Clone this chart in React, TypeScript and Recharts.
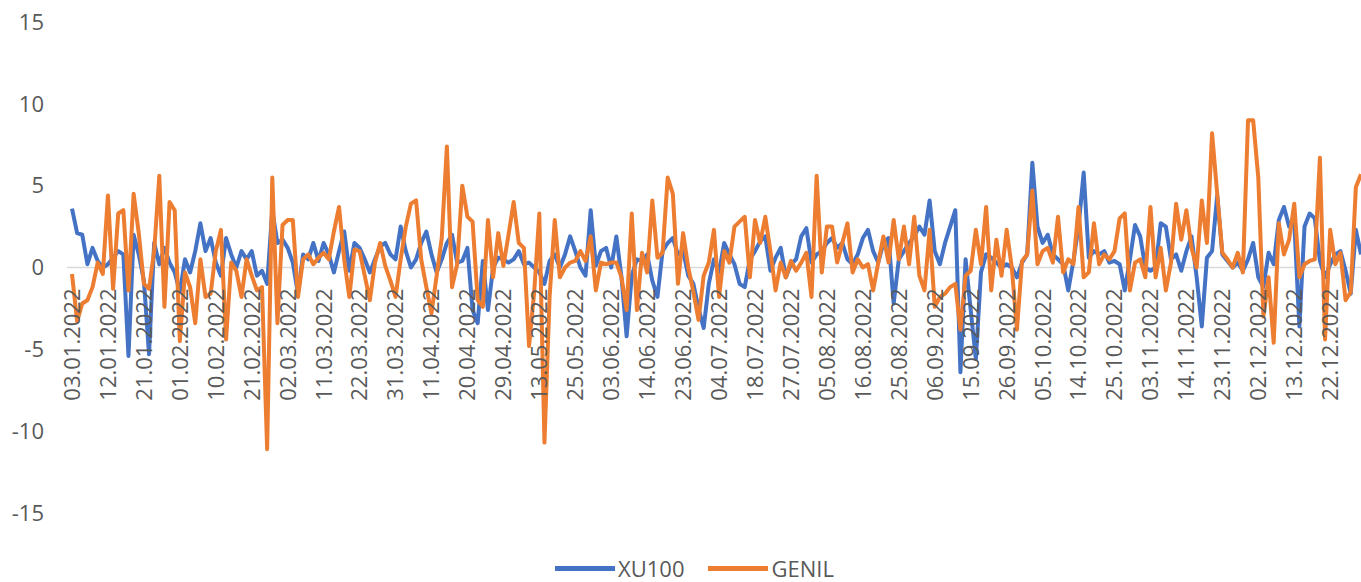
import React from 'react';
import { LineChart, Line, XAxis, YAxis, ReferenceLine, Legend } from 'recharts';

const TICK_LABELS = [
  '03.01.2022', '12.01.2022', '21.01.2022', '01.02.2022', '10.02.2022', '21.02.2022',
  '02.03.2022', '11.03.2022', '22.03.2022', '31.03.2022', '11.04.2022', '20.04.2022',
  '29.04.2022', '13.05.2022', '25.05.2022', '03.06.2022', '14.06.2022', '23.06.2022',
  '04.07.2022', '18.07.2022', '27.07.2022', '05.08.2022', '16.08.2022', '25.08.2022',
  '06.09.2022', '15.09.2022', '26.09.2022', '05.10.2022', '14.10.2022', '25.10.2022',
  '03.11.2022', '14.11.2022', '23.11.2022', '02.12.2022', '13.12.2022', '22.12.2022',
];

const Y_TICKS = [-15, -10, -5, 0, 5, 10, 15];

const XU100 = [
  3.6, 2.1, 2.0, 0.2, 1.2, 0.4, 0.0,
  0.2, 0.6, 1.0, 0.8, -5.4, 2.0, 0.8,
  -0.8, -5.3, 1.5, 0.2, 1.2, 0.3, -0.3,
  -1.5, 0.5, -0.3, 1.0, 2.7, 1.0, 1.8,
  0.3, -0.5, 1.8, 0.8, 0.0, 1.0, 0.5,
  1.0, -0.5, -0.2, -1.0, 3.5, 1.5, 1.7,
  1.2, 0.3, -1.6, 0.8, 0.5, 1.5, 0.4,
  1.5, 0.8, -0.3, 1.0, 2.2, -0.2, 1.5,
  1.2, 0.5, -0.3, 0.5, 1.3, 1.5, 0.8,
  0.5, 2.5, 1.0, 0.0, 0.5, 1.5, 2.2,
  0.8, -0.3, 0.5, 1.5, 2.0, 0.3, 0.4,
  1.2, -2.6, -3.4, 0.4, -2.6, 0.0, 0.6,
  0.5, 0.3, 0.5, 1.0, 0.2, 0.3, 0.0,
  -0.3, -1.0, 0.4, 0.8, 0.0, 0.8, 1.9,
  1.0, 0.0, -0.5, 3.5, 0.1, 1.0, 1.2,
  0.0, 1.9, -0.6, -4.2, -0.5, 0.5, 0.4,
  0.8, -0.8, -1.8, 1.0, 1.5, 1.8, 0.8,
  1.0, -0.5, -1.0, -2.5, -3.7, -1.0, 0.5,
  -0.3, 1.5, 0.8, 0.2, -1.0, -1.2, 0.5,
  1.0, 1.6, 1.9, -0.2, 0.6, 1.2, -0.6,
  0.2, 0.5, 1.9, 2.4, 0.3, 0.8, 1.0,
  1.5, 1.8, 1.2, 1.5, 0.5, 0.2, 0.8,
  1.8, 2.3, 1.0, 0.3, 1.5, 1.8, -2.2,
  0.5, 1.0, 1.5, 1.9, 2.5, 2.0, 4.1,
  1.0, 0.2, 1.5, 2.5, 3.5, -6.4, 0.5,
  -2.6, -5.6, -0.3, 0.8, 0.6, 0.3, 0.0,
  0.2, 0.0, -0.6, 0.3, 0.8, 6.4, 2.5,
  1.5, 2.0, 0.8, 0.5, 0.2, -1.4, 0.4,
  2.5, 5.8, 0.6, 1.0, 0.8, 1.0, 0.3,
  0.4, 0.2, -1.4, 0.5, 2.6, 1.9, 0.0,
  -0.2, 0.0, 2.7, 2.5, 0.5, 0.8, -0.2,
  1.0, 1.9, -0.6, -3.6, 0.6, 1.0, 4.4,
  0.8, 0.4, 0.0, 0.3, -0.2, 0.5, 1.5,
  -0.6, -1.2, 0.9, 0.2, 2.9, 3.7, 2.5,
  2.8, -3.6, 2.5, 3.3, 3.0, 0.4, -0.6,
  0.2, 0.8, 1.0, -0.2, -1.6, 2.3, 0.8,
];

const GENIL = [
  -0.4, -3.3, -2.2, -2.0, -1.2, 0.3, -0.4,
  4.4, -1.3, 3.3, 3.5, -1.4, 4.5, 2.1,
  -1.0, -1.3, 1.0, 5.6, -2.4, 4.0, 3.5,
  -4.5, -0.3, -1.2, -3.4, 0.5, -1.8, -1.6,
  1.0, 2.3, -4.4, 0.3, -0.2, -1.8, 0.5,
  -0.5, -1.4, -1.2, -11.1, 5.5, -3.4, 2.6,
  2.9, 2.9, -1.8, 0.5, 0.8, 0.2, 0.6,
  0.9, 0.5, 2.2, 3.7, 0.5, -1.8, 1.1,
  1.0, -0.5, -2.0, 0.3, 1.5, 0.1, -0.8,
  -1.8, 0.5, 2.5, 3.9, 4.1, 0.5, -1.2,
  -2.8, -0.5, 1.8, 7.4, -1.2, 0.2, 5.0,
  3.1, 2.8, -2.0, -2.4, 2.9, -0.6, 2.1,
  0.1, 2.0, 4.0, 1.5, 1.2, -4.8, -1.5,
  3.3, -10.7, -1.8, 2.9, -0.6, 0.0, 0.3,
  0.4, 1.0, 0.4, 1.9, -1.4, 0.3, 0.2,
  0.3, 0.3, -0.6, -2.6, 3.3, -2.6, 0.9,
  -0.3, 4.1, 0.6, 0.9, 5.5, 4.5, -1.0,
  2.1, 0.0, -1.5, -3.2, -0.5, 0.3, 2.3,
  -1.8, 1.0, 0.3, 2.5, 2.8, 3.1, -0.6,
  2.9, 1.5, 3.1, 1.0, -1.4, 0.3, -0.6,
  0.4, -0.2, 0.3, 0.9, -1.8, 5.6, -0.3,
  2.5, 2.5, 0.3, 1.5, 2.7, -0.3, 0.5,
  0.0, 0.2, -1.4, 0.3, 1.9, 0.3, 2.9,
  0.5, 2.5, 0.2, 3.1, -0.5, -1.4, 2.3,
  -2.4, -1.8, -1.6, -1.2, -1.0, -3.8, -0.5,
  -0.2, 2.3, 0.2, 3.7, -1.4, 1.7, -0.5,
  2.3, 0.0, -3.8, 0.4, 0.8, 4.7, 0.2,
  1.0, 1.2, 0.3, 3.1, -0.3, 0.5, 0.2,
  3.7, -0.6, -0.3, 2.7, 0.2, 0.8, 0.5,
  1.0, 3.0, 3.3, -1.4, 0.3, 0.5, -0.6,
  3.7, -0.6, 1.2, -1.4, 0.3, 3.9, 1.7,
  3.5, 1.2, 0.0, 4.1, 1.5, 8.2, 4.5,
  0.9, 0.5, 0.0, 0.9, -0.3, 9.0, 9.0,
  5.5, -3.0, -0.6, -4.6, 2.7, 0.8, 1.7,
  3.9, -0.6, 0.2, 0.4, 0.5, 6.7, -4.4,
  2.3, 0.2, 0.9, -2.0, -1.5, 4.9, 5.7,
];

const TICK_STEP = 7;

const data = XU100.map((v, i) => ({ idx: i, XU100: v, GENIL: GENIL[i] }));
const X_TICKS = TICK_LABELS.map((_, k) => k * TICK_STEP);

const WIDTH = 1361;
const HEIGHT = 582;
const MARGIN = { top: 22, right: 0, bottom: 68, left: 0 };
const X_AXIS_HEIGHT = 1;
const PLOT_TOP = MARGIN.top;
const PLOT_BOTTOM = HEIGHT - MARGIN.bottom - X_AXIS_HEIGHT;
const Y_MIN = -15;
const Y_MAX = 15;
const ZERO_Y = PLOT_TOP + ((Y_MAX - 0) / (Y_MAX - Y_MIN)) * (PLOT_BOTTOM - PLOT_TOP);

const TEXT_COLOR = '#595959';
const FONT = '"Open Sans", sans-serif';
const BLUE = '#4472C4';
const ORANGE = '#ED7D31';

const SERIES = [
  { key: 'XU100', color: BLUE },
  { key: 'GENIL', color: ORANGE },
];

const DateTick = (props: any) => {
  const { x, payload } = props;
  const label = TICK_LABELS[Math.round(payload.value / TICK_STEP)];
  const ty = ZERO_Y + 21;
  return (
    <text
      x={x}
      y={ty}
      transform={`rotate(-90 ${x} ${ty})`}
      textAnchor="end"
      dy="0.36em"
      fill={TEXT_COLOR}
      fontSize={22}
      fontFamily={FONT}
    >
      {label}
    </text>
  );
};

const renderLegend = () => (
  <div style={{ display: 'flex', justifyContent: 'flex-start', alignItems: 'center', paddingLeft: 555, fontFamily: FONT, fontSize: 22, lineHeight: '24px', color: TEXT_COLOR }}>
    {SERIES.map((s, i) => (
      <div key={s.key} style={{ display: 'flex', alignItems: 'center', marginLeft: i === 0 ? 0 : 24 }}>
        <span style={{ display: 'inline-block', width: 60, height: 5, background: s.color, marginRight: 3 }} />
        <span>{s.key}</span>
      </div>
    ))}
  </div>
);

export default function App() {
  return (
    <div style={{ position: 'absolute', left: 0, top: 0, width: WIDTH, height: HEIGHT, overflow: 'hidden', background: '#fff' }}>
      <LineChart width={WIDTH} height={HEIGHT} data={data} margin={MARGIN}>
        <ReferenceLine y={0} stroke="#D9D9D9" strokeWidth={1.5} />
        <XAxis
          dataKey="idx"
          type="number"
          domain={[0, 251]}
          ticks={X_TICKS}
          interval={0}
          axisLine={false}
          tickLine={false}
          height={X_AXIS_HEIGHT}
          padding={{ left: 5, right: 0 }}
          tick={(p: any) => <DateTick {...p} />}
        />
        <YAxis
          domain={[Y_MIN, Y_MAX]}
          ticks={Y_TICKS}
          width={67}
          axisLine={false}
          tickLine={false}
          tickSize={0}
          tickMargin={23}
          tick={{ fill: TEXT_COLOR, fontSize: 22, fontFamily: FONT }}
        />
        <Legend
          verticalAlign="middle"
          align="center"
          layout="horizontal"
          wrapperStyle={{ top: 556, left: 0, width: WIDTH, height: 24 }}
          content={renderLegend}
        />
        <Line type="linear" dataKey="XU100" name="XU100" stroke={BLUE} strokeWidth={4} dot={false} strokeLinejoin="round" isAnimationActive={false} />
        <Line type="linear" dataKey="GENIL" name="GENIL" stroke={ORANGE} strokeWidth={4} dot={false} strokeLinejoin="round" isAnimationActive={false} />
      </LineChart>
    </div>
  );
}
